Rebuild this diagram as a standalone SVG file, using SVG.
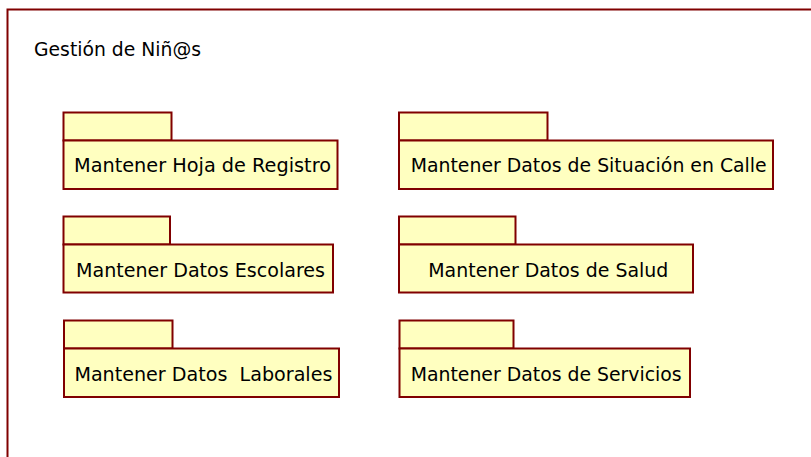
<svg xmlns="http://www.w3.org/2000/svg" width="811" height="457" viewBox="0 0 811 457">
<style>
.frame{fill:#ffffff;stroke:#800000;stroke-width:2}
.pk{fill:#ffffc0;stroke:#800000;stroke-width:2}
.t{font-family:"DejaVu Sans","Liberation Sans",sans-serif;font-size:20px;fill:#000000;white-space:pre}
</style>
<rect x="0" y="0" width="811" height="457" fill="#ffffff"/>
<g id="frame">
<rect class="frame" x="7.5" y="9.5" width="820" height="470"/>
<text class="t" x="34" y="56" textLength="167" lengthAdjust="spacingAndGlyphs">Gestión de Niñ@s</text>
</g>
<g id="pkg-hoja-registro">
<rect class="pk" x="63.5" y="112.5" width="108" height="28"/>
<rect class="pk" x="63.5" y="140.5" width="274" height="48.5"/>
<text class="t" x="74" y="171.5" textLength="257" lengthAdjust="spacingAndGlyphs">Mantener Hoja de Registro</text>
</g>
<g id="pkg-situacion-calle">
<rect class="pk" x="399" y="112.5" width="148.5" height="28"/>
<rect class="pk" x="399" y="140.5" width="374" height="48.5"/>
<text class="t" x="410.7" y="171.5" textLength="356" lengthAdjust="spacingAndGlyphs">Mantener Datos de Situación en Calle</text>
</g>
<g id="pkg-escolares">
<rect class="pk" x="63.5" y="216.5" width="106.5" height="28"/>
<rect class="pk" x="63.5" y="244.5" width="269.5" height="48"/>
<text class="t" x="76" y="276.5" textLength="249" lengthAdjust="spacingAndGlyphs">Mantener Datos Escolares</text>
</g>
<g id="pkg-salud">
<rect class="pk" x="399" y="216.5" width="116.5" height="28"/>
<rect class="pk" x="399" y="244.5" width="294" height="48"/>
<text class="t" x="428.3" y="276.5" textLength="240" lengthAdjust="spacingAndGlyphs">Mantener Datos de Salud</text>
</g>
<g id="pkg-laborales">
<rect class="pk" x="64" y="320.5" width="108.5" height="28"/>
<rect class="pk" x="64" y="348.5" width="275" height="48.5"/>
<text class="t" x="74.4" y="380.5" textLength="258" lengthAdjust="spacingAndGlyphs">Mantener Datos  Laborales</text>
</g>
<g id="pkg-servicios">
<rect class="pk" x="399.5" y="320.5" width="114" height="28"/>
<rect class="pk" x="399.5" y="348.5" width="290.5" height="48.5"/>
<text class="t" x="410.7" y="380.5" textLength="271" lengthAdjust="spacingAndGlyphs">Mantener Datos de Servicios</text>
</g>
<g id="connectors"></g>
</svg>
